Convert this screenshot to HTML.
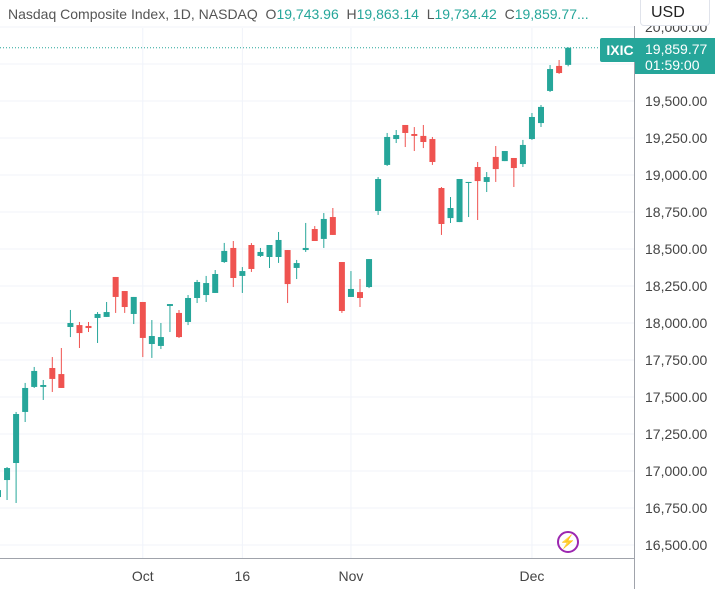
<!DOCTYPE html>
<html><head><meta charset="utf-8">
<style>
html,body{margin:0;padding:0;background:#fff;}
body{width:715px;height:589px;overflow:hidden;position:relative;font-family:"Liberation Sans",sans-serif;}
svg{position:absolute;left:0;top:0;}
</style></head>
<body>
<svg id="chart" width="715" height="589"></svg>
<script>
const opens=[16824,16939,17054,17399,17568,17568,17696,17655,17973,17986,17980,18034,18041,18311,18216,18061,18142,17858,17845,18115,18068,18007,18169,18189,18203,18412,18507,18318,18527,18453,18446,18446,18493,18372,18493,18635,18568,18716,18412,18176,18209,18243,18757,19068,19243,19338,19277,19264,19243,18912,18709,18682,18946,19054,18953,19122,19094,19115,19074,19243,19351,19568,19737,19743.96];
const closes=[16871,17020,17385,17561,17676,17581,17622,17561,18000,17932,17966,18061,18074,18176,18108,18176,17899,17912,17905,18128,17905,18169,18277,18270,18331,18487,18304,18351,18365,18480,18527,18561,18263,18405,18507,18554,18703,18595,18081,18230,18169,18432,18973,19257,19270,19284,19264,19223,19088,18669,18777,18973,18953,18959,18986,19040,19162,19047,19203,19392,19460,19716,19689,19859.77];
const highs=[16885,17027,17399,17595,17703,17615,17770,17831,18088,18007,18007,18074,18142,18311,18216,18176,18142,18020,18000,18128,18088,18189,18291,18318,18358,18541,18554,18378,18540,18507,18527,18615,18493,18426,18676,18655,18743,18777,18412,18351,18297,18432,18986,19284,19304,19338,19324,19338,19257,18919,18851,18973,18953,19088,19020,19196,19162,19115,19237,19419,19473,19743,19777,19863.14];
const lows=[16770,16804,16784,17331,17561,17480,17534,17561,17905,17831,17939,17865,18041,18068,18068,17993,17770,17764,17824,17939,17899,17986,18135,18142,18203,18406,18243,18203,18345,18446,18372,18406,18135,18297,18480,18554,18507,18595,18068,18176,18108,18236,18730,19061,19216,19189,19162,19182,19068,18595,18676,18682,18716,18696,18885,18953,19094,18919,19054,19237,19324,19561,19683,19734.42];
const yTicks=[16500,16750,17000,17250,17500,17750,18000,18250,18500,18750,19000,19250,19500,19750,20000];
const xLabels=["Oct","16","Nov","Dec"];
const xLabelIdx=[16,27,39,59];

const svg=document.getElementById('chart');
const NS='http://www.w3.org/2000/svg';
function X(i){return -2+i*9.05;}
function Y(p){return 545-(p-16500)*0.148;}
function mk(tag,attrs,parent){const e=document.createElementNS(NS,tag);for(const k in attrs)e.setAttribute(k,attrs[k]);(parent||svg).appendChild(e);return e;}

const grid=mk('g',{});


yTicks.forEach(t=>{const l=mk('line',{x1:0,x2:634,y1:Y(t),y2:Y(t),stroke:'#f0f3fa','stroke-width':1},grid);

});
xLabelIdx.forEach(i=>{const l=mk('line',{x1:X(i),x2:X(i),y1:28,y2:558,stroke:'#f0f3fa','stroke-width':1},grid);

});

const pl=mk('line',{x1:0,x2:634,y1:Y(closes[closes.length-1]),y2:Y(closes[closes.length-1]),stroke:'#26a69a','stroke-width':1,'stroke-dasharray':'1,2'});



const cg=mk('g',{});


for(let i=0;i<opens.length;i++){
  const up=closes[i]>=opens[i];
  const col=up?'#26a69a':'#ef5350';
  const g=mk('g',{},cg);
  
  
  const x=X(i);
  mk('line',{x1:x,x2:x,y1:Y(highs[i]),y2:Y(lows[i]),stroke:col,'stroke-width':1},g);
  const top=Y(Math.max(opens[i],closes[i])),bot=Y(Math.min(opens[i],closes[i]));
  mk('rect',{x:x-3,y:top,width:6,height:Math.max(1,bot-top),fill:col},g);
}

const ax=mk('line',{x1:634.5,x2:634.5,y1:0,y2:589,stroke:'#a0a3ab','stroke-width':1});


const bx=mk('line',{x1:0,x2:634,y1:558.5,y2:558.5,stroke:'#a0a3ab','stroke-width':1});



yTicks.forEach(t=>{const tx=mk('text',{x:645,y:Y(t)+5,'font-size':'14',fill:'#444','font-family':'Liberation Sans, sans-serif'});
tx.textContent=t.toLocaleString('en-US',{minimumFractionDigits:2});

});
xLabels.forEach((s,k)=>{const tx=mk('text',{x:X(xLabelIdx[k]),y:581,'font-size':'14',fill:'#444','text-anchor':'middle','font-family':'Liberation Sans, sans-serif'});
tx.textContent=s;

});
</script>
<div style="position:absolute;left:600px;top:38px;width:40px;height:24px;background:#26a69a;color:#fff;font-size:14px;font-weight:bold;line-height:24px;text-align:center;border-radius:2px 0 0 2px;">IXIC</div>
<div style="position:absolute;left:635px;top:38px;width:80px;height:36px;background:#26a69a;color:#fff;font-size:14px;line-height:16px;padding-top:3px;box-sizing:border-box;padding-left:10px;">19,859.77<br>01:59:00</div>
<div style="position:absolute;left:0;top:0;width:634px;height:26px;background:#fff;font-size:14px;color:#555;line-height:28px;padding-left:8px;white-space:nowrap;">Nasdaq Composite Index, 1D, NASDAQ&nbsp;&nbsp;O<span style="color:#26a69a">19,743.96</span>&nbsp;&nbsp;H<span style="color:#26a69a">19,863.14</span>&nbsp;&nbsp;L<span style="color:#26a69a">19,734.42</span>&nbsp;&nbsp;C<span style="color:#26a69a">19,859.77...</span></div>
<div style="position:absolute;left:640px;top:0;width:70px;height:26px;background:#fff;border:1px solid #e0e3eb;border-top:none;border-radius:0 0 4px 4px;font-size:16px;color:#222;line-height:26px;padding-left:10px;box-sizing:border-box;">USD</div>
<div style="position:absolute;left:557px;top:531px;width:22px;height:22px;border:2px solid #9c27b0;border-radius:50%;box-sizing:border-box;color:#9c27b0;font-size:13px;text-align:center;line-height:18px;">⚡</div>
</body></html>
